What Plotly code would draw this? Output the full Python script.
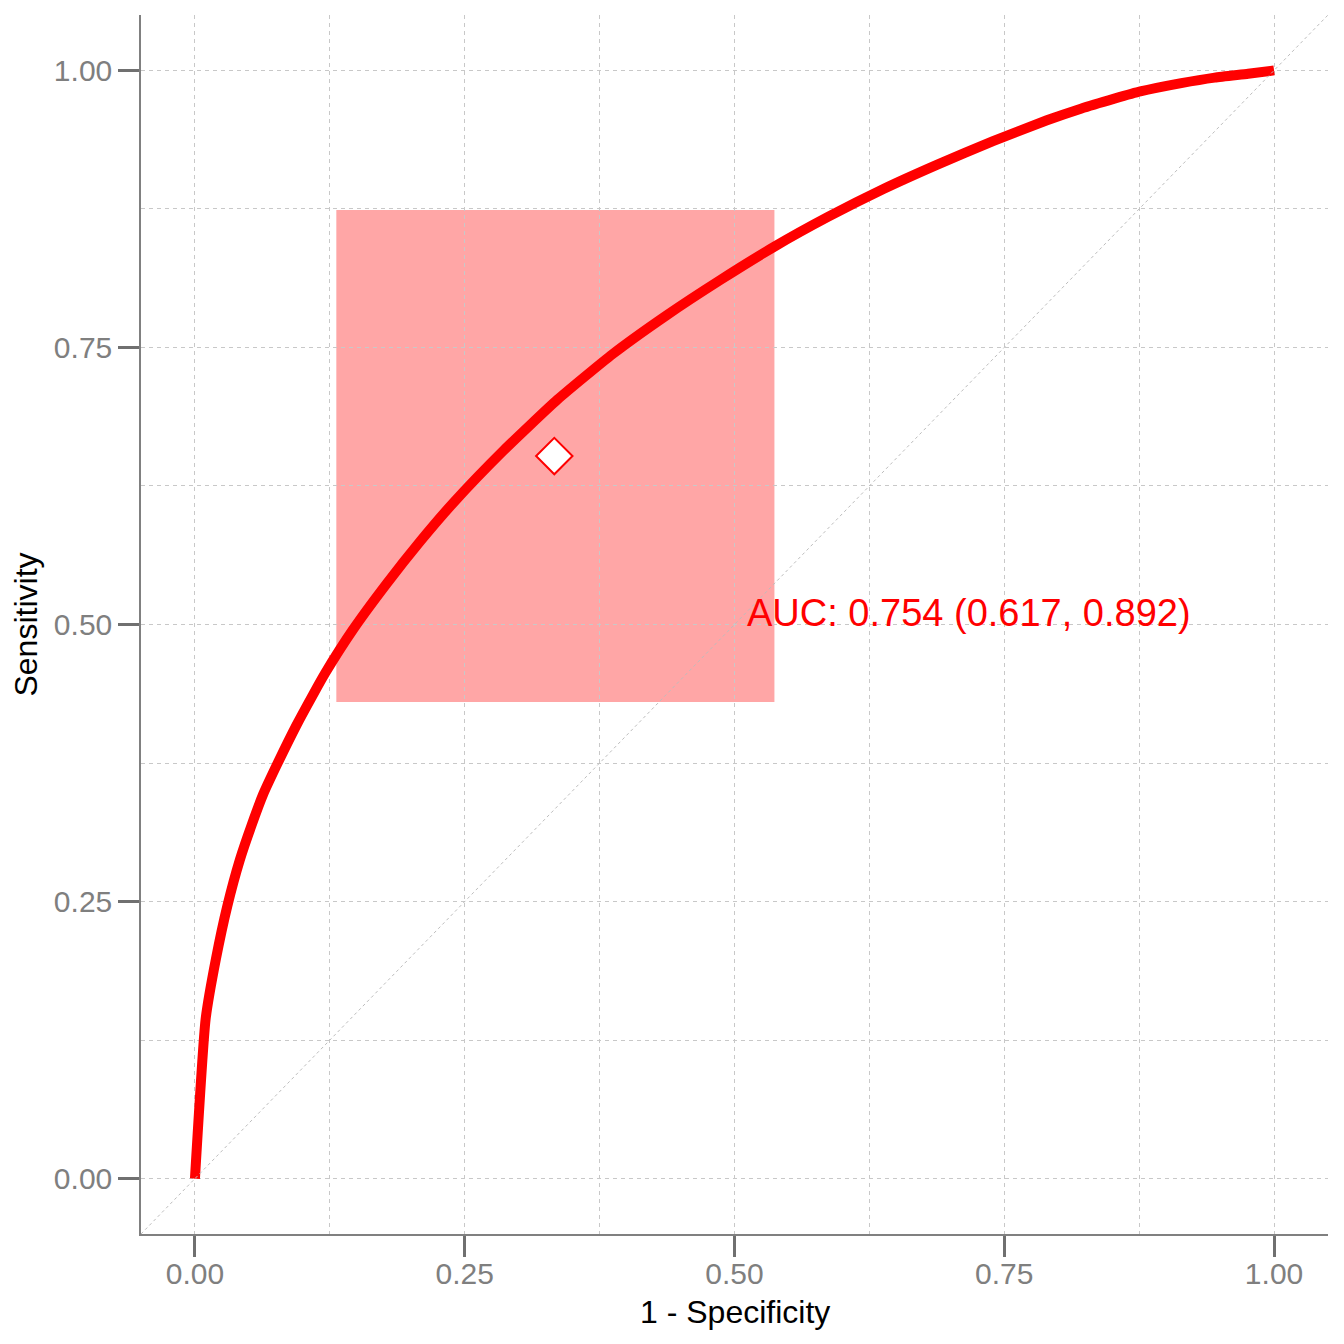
import plotly.graph_objects as go

# ROC curve (1 - specificity, sensitivity)
fpr = [0.0, 0.0099, 0.0194, 0.030, 0.0417, 0.0525, 0.0633, 0.0772, 0.094, 0.1096,
       0.1206, 0.1469, 0.1778, 0.2087, 0.2396, 0.286, 0.336, 0.387, 0.437,
       0.487, 0.537, 0.587, 0.638, 0.688, 0.739, 0.7895, 0.821, 0.852, 0.876,
       0.914, 0.945, 0.976, 1.0]
tpr = [0.0, 0.144, 0.198, 0.246, 0.288, 0.319, 0.347, 0.376, 0.409, 0.437,
       0.456, 0.496, 0.537, 0.575, 0.610, 0.657, 0.703, 0.744, 0.779,
       0.811, 0.841, 0.868, 0.893, 0.915, 0.936, 0.955, 0.9655, 0.9745, 0.981,
       0.9885, 0.9935, 0.997, 1.0]

# operating point and its confidence box
best_fpr = [0.333]
best_tpr = [0.652]
fpr_ci = [0.131, 0.537]
tpr_ci = [0.430, 0.874]

auc = 0.754
auc_ci = [0.617, 0.892]
label_pos = [0.51, 0.51]

ticks = [0.0, 0.25, 0.5, 0.75, 1.0]
tick_labels = ["0.00", "0.25", "0.50", "0.75", "1.00"]
axis_range = [-0.05, 1.05]

font = "Liberation Sans, Arial, Helvetica, sans-serif"
grid = "#c8c8c8"

fig = go.Figure()

fig.add_trace(go.Scatter(x=fpr, y=tpr, mode="lines",
                         line=dict(color="#ff0000", width=10, shape="spline", smoothing=0.5),
                         hoverinfo="skip", showlegend=False))
fig.add_trace(go.Scatter(x=best_fpr, y=best_tpr, mode="markers",
                         marker=dict(symbol="diamond", size=28, color="white",
                                     line=dict(color="#ff0000", width=2)),
                         showlegend=False))

# CI rectangle
fig.add_shape(type="rect", x0=fpr_ci[0], x1=fpr_ci[1], y0=tpr_ci[0], y1=tpr_ci[1],
              xref="x", yref="y", fillcolor="rgba(255,0,0,0.35)",
              line=dict(width=0), layer="below")
# chance diagonal across the whole panel (equal ranges, so paper diagonal = y=x)
fig.add_shape(type="line", x0=0, y0=0, x1=1, y1=1, xref="paper", yref="paper",
              line=dict(color="#bdbdbd", width=1, dash="3px,3px"), layer="above")

fig.add_annotation(x=label_pos[0], y=label_pos[1], xref="x", yref="y",
                   text="AUC: {:.3f} ({:.3f}, {:.3f})".format(auc, auc_ci[0], auc_ci[1]),
                   showarrow=False, xanchor="left", yanchor="middle",
                   font=dict(family=font, size=38, color="#ff0000"))

# x title placed by hand, a bit closer to the tick labels than plotly allows
fig.add_annotation(x=0.5, y=-0.064, xref="paper", yref="paper",
                   text="1 - Specificity", showarrow=False,
                   xanchor="center", yanchor="middle",
                   font=dict(family=font, size=32, color="black"))

axis_common = dict(
    range=axis_range, tickvals=ticks, ticktext=tick_labels,
    showgrid=True, gridcolor=grid, gridwidth=1, griddash="4px,4px",
    minor=dict(dtick=0.125, tick0=0, showgrid=True, gridcolor=grid,
               gridwidth=1, griddash="4px,4px", ticks=""),
    zeroline=False, showline=True, linecolor="#808080", linewidth=1.5,
    ticks="outside", ticklen=21, tickwidth=3, tickcolor="#707070",
    tickfont=dict(family=font, size=30, color="#7f7f7f"),
)

fig.update_xaxes(**axis_common, ticklabelstandoff=-9)
fig.update_yaxes(**axis_common, ticklabelstandoff=0,
                 title=dict(text="Sensitivity", standoff=12,
                            font=dict(family=font, size=32, color="black")))

# page body adds an 8px offset, so margins are shifted to compensate
fig.update_layout(width=1344, height=1344,
                  margin=dict(l=133, r=24, t=7, b=118),
                  plot_bgcolor="white", paper_bgcolor="white",
                  font=dict(family=font))

fig.write_html("out.html")
